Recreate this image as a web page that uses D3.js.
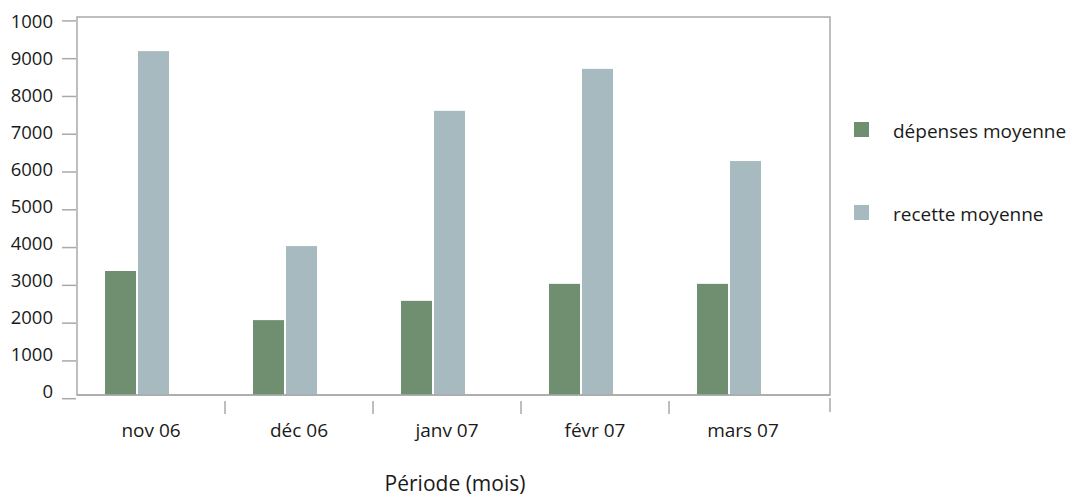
<!DOCTYPE html>
<html><head><meta charset="utf-8">
<script src="https://cdn.jsdelivr.net/npm/d3@7"></script>
<style>body{margin:0;background:#fff}svg{display:block}text{font-family:"Open Sans",sans-serif;fill:#1a1a1a}</style>
</head><body>
<svg id="c" width="1067" height="497"></svg>
<script>
const categories = ["nov 06","déc 06","janv 07","févr 07","mars 07"];
const seriesNames = ["dépenses moyenne","recette moyenne"];
const depenses = [3380, 2080, 2590, 3040, 3040];
const recettes = [9200, 4040, 7620, 8730, 6290];
const tickValues = [0,1000,2000,3000,4000,5000,6000,7000,8000,9000,10000];
const tickLabels = ["0","1000","2000","3000","4000","5000","6000","7000","8000","9000","1000"];
const colors = ["#6f8f70","#a7bac0"];
const xTitle = "Période (mois)";

const svg = d3.select("#c");
const frame = {left:77, right:830, top:17, bottom:395};
const axisColor = "#a9a9a9";

const yTick = d3.scaleLinear().domain([0,10000]).range([398.7,20.9]);
const yLabel = d3.scaleLinear().domain([0,10000]).range([391,21.3]);
const x0 = d3.scaleBand().domain(categories).range([77,817]);
const x1 = d3.scaleBand().domain(seriesNames).range([28,92]).paddingInner(0.0606);

// frame
svg.append("rect").attr("x",frame.left).attr("y",frame.top)
  .attr("width",frame.right-frame.left).attr("height",frame.bottom-frame.top)
  .attr("fill","none").attr("stroke",axisColor).attr("stroke-width",1.5);

// y ticks
svg.selectAll("line.yt").data(tickValues).join("line").attr("class","yt")
  .attr("x1",62).attr("x2",76)
  .attr("y1",d=>Math.max(yTick(d),frame.top)).attr("y2",d=>Math.max(yTick(d),frame.top))
  .attr("stroke",axisColor).attr("stroke-width",1.5);
svg.selectAll("text.yl").data(tickValues).join("text").attr("class","yl")
  .attr("x",53).attr("y",d=>yLabel(d)).attr("dy","0.36em")
  .attr("text-anchor","end").attr("font-size","18.5px")
  .text((d,i)=>tickLabels[i]);

// x separators
const seps = categories.slice(1).map(c=>x0(c)).concat([frame.right]);
svg.selectAll("line.xs").data(seps).join("line").attr("class","xs")
  .attr("x1",d=>d).attr("x2",d=>d).attr("y1",(d,i)=>i===seps.length-1?398:401).attr("y2",(d,i)=>i===seps.length-1?412:414)
  .attr("stroke",axisColor).attr("stroke-width",1.5);

// bars
const data = categories.map((c,i)=>({cat:c, vals:[depenses[i],recettes[i]]}));
const g = svg.selectAll("g.cat").data(data).join("g").attr("class","cat")
  .attr("transform",d=>`translate(${x0(d.cat)},0)`);
g.selectAll("rect").data(d=>d.vals.map((v,j)=>({s:seriesNames[j],v,j}))).join("rect")
  .attr("x",d=>x1(d.s)).attr("width",x1.bandwidth())
  .attr("y",d=>yTick(d.v)).attr("height",d=>frame.bottom-yTick(d.v))
  .attr("fill",d=>colors[d.j]);

// redraw bottom frame line over bars
svg.append("line").attr("x1",frame.left).attr("x2",frame.right)
  .attr("y1",frame.bottom).attr("y2",frame.bottom).attr("stroke",axisColor).attr("stroke-width",1.5);

// category labels
svg.selectAll("text.xl").data(categories).join("text").attr("class","xl")
  .attr("x",d=>x0(d)+x0.bandwidth()/2).attr("y",437)
  .attr("text-anchor","middle").attr("font-size","19px").text(d=>d);

// x title
svg.append("text").attr("x",455).attr("y",491).attr("text-anchor","middle")
  .attr("font-size","21px").text(xTitle);

// legend
const leg = svg.selectAll("g.leg").data(seriesNames).join("g").attr("class","leg")
  .attr("transform",(d,i)=>`translate(854,${122+i*83})`);
leg.append("rect").attr("width",15).attr("height",15).attr("fill",(d,i)=>colors[i]);
leg.append("text").attr("x",39).attr("y",16).attr("font-size","19px").text(d=>d);
</script>
</body></html>
